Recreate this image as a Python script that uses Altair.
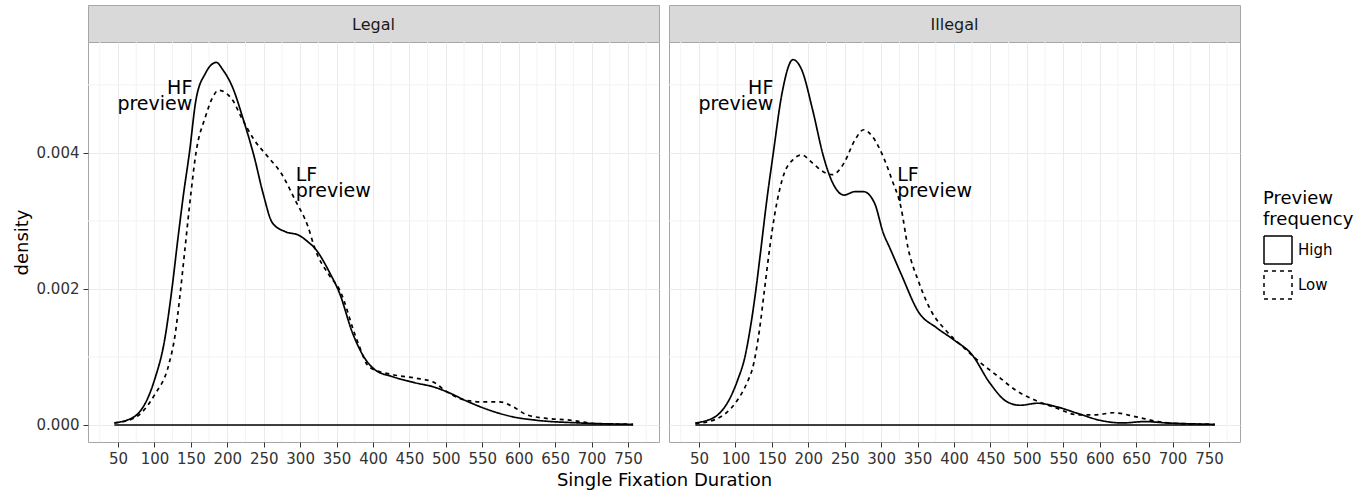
import altair as alt
import pandas as pd

FONT = "DejaVu Sans"

panels = ["Legal", "Illegal"]
freq_levels = ["High", "Low"]

# ---- density curves ----
legal_high_x = [45, 72, 100, 114, 124, 132, 140, 148, 157, 170, 185, 194, 207, 222, 237, 249, 262, 280, 298,
                311, 320, 341, 354, 372, 390, 403, 427, 458, 483, 501, 531, 562, 592, 624, 684, 757]
legal_high_d = [0.00003, 0.00012, 0.00066, 0.00125, 0.0020, 0.00272, 0.0034, 0.0040, 0.00478, 0.00517, 0.00533,
                0.00522, 0.00497, 0.00449, 0.00394, 0.00341, 0.00297, 0.00284, 0.00279, 0.00269, 0.0026,
                0.00223, 0.00194, 0.00135, 0.00096, 0.00081, 0.00071, 0.00062, 0.00056, 0.00049, 0.00034,
                0.00021, 0.00012, 0.00007, 0.00003, 0.00001]

legal_low_x = [45, 72, 100, 120, 128, 135, 142, 150, 157, 170, 180, 188, 207, 219, 237, 256, 274, 293, 311, 320,
               340, 354, 378, 395, 427, 458, 483, 501, 525, 550, 574, 592, 611, 636, 672, 706, 757]
legal_low_d = [0.00003, 0.0001, 0.00044, 0.0009, 0.0013, 0.0019, 0.0026, 0.0034, 0.0040, 0.00453, 0.00482,
               0.00492, 0.00478, 0.00453, 0.00419, 0.00394, 0.0037, 0.00331, 0.00291, 0.0026, 0.0022,
               0.00199, 0.00125, 0.00085, 0.00074, 0.00069, 0.00063, 0.00049, 0.00037, 0.00034, 0.00034,
               0.00027, 0.00015, 0.0001, 0.00007, 0.00002, 0.00001]

illegal_high_x = [45, 72, 103, 113, 120, 127, 134, 143, 152, 164, 179, 191, 206, 221, 233, 249, 264, 276, 291,
                  303, 312, 327, 352, 376, 400, 425, 449, 473, 491, 515, 540, 570, 600, 631, 662, 692, 758]
illegal_high_d = [0.00003, 0.00012, 0.00066, 0.0010, 0.0014, 0.0019, 0.0025, 0.0033, 0.0040, 0.00488, 0.00537,
                  0.00522, 0.00463, 0.00394, 0.00357, 0.00338, 0.00343, 0.00343, 0.00326, 0.00282, 0.0026,
                  0.00223, 0.00165, 0.00143, 0.00125, 0.00103, 0.00062, 0.00034, 0.00029, 0.00032, 0.00027,
                  0.00017, 0.00007, 0.00003, 0.00005, 0.00003, 0.00001]

illegal_low_x = [45, 72, 103, 115, 125, 133, 140, 147, 154, 167, 179, 191, 206, 221, 233, 249, 264, 276, 288, 303,
                 315, 327, 337, 352, 370, 388, 412, 437, 461, 485, 510, 540, 570, 595, 619, 650, 680, 711, 758]
illegal_low_d = [0.00002, 0.00008, 0.00037, 0.0006, 0.0009, 0.0014, 0.0020, 0.0026, 0.0031, 0.0037, 0.0039,
                 0.00397, 0.00385, 0.00372, 0.00368, 0.00385, 0.00419, 0.00434, 0.00424, 0.00394, 0.0036,
                 0.00321, 0.0026, 0.00209, 0.00165, 0.0014, 0.00115, 0.00091, 0.00071, 0.00051, 0.00037,
                 0.00025, 0.00015, 0.00015, 0.00018, 0.00012, 0.00005, 0.00002, 0.00001]

# ---- axes ----
x_ticks = list(range(50, 751, 50))
x_minor = list(range(25, 776, 50))
y_ticks = [0.0, 0.002, 0.004]
y_minor = [0.001, 0.003, 0.005]
X_DOMAIN = [8.8, 792.6]
Y_DOMAIN = [-0.00025, 0.00563]

# ---- annotations ----
ann_panel = ["Legal", "Legal", "Illegal", "Illegal"]
ann_label = ["HF\npreview", "LF\npreview", "HF\npreview", "LF\npreview"]
ann_x = [152, 294, 152, 322]
ann_y = [0.00486, 0.00359, 0.00486, 0.00359]
ann_side = ["right", "left", "right", "left"]

series = {
    ("Legal", "High"): (legal_high_x, legal_high_d),
    ("Legal", "Low"): (legal_low_x, legal_low_d),
    ("Illegal", "High"): (illegal_high_x, illegal_high_d),
    ("Illegal", "Low"): (illegal_low_x, illegal_low_d),
}
rows = []
for (p, f), (xs, ds) in series.items():
    for xv, dv in zip(xs, ds):
        rows.append({"panel": p, "freq": f, "x": xv, "d": dv})
dens = pd.DataFrame(rows)
ann = pd.DataFrame({"panel": ann_panel, "label": ann_label, "x": ann_x, "y": ann_y, "side": ann_side})

W, H, STRIP_H = 571, 400, 37

xscale = alt.Scale(domain=X_DOMAIN, nice=False, zero=False)
yscale = alt.Scale(domain=Y_DOMAIN, nice=False, zero=False)

legend = alt.Legend(
    orient="none", legendX=1175, legendY=185,
    title=["Preview", "frequency"], titleFont=FONT, titleFontSize=18, titleFontWeight="normal",
    titleColor="black", titleLineHeight=21, titlePadding=6,
    labelFont=FONT, labelFontSize=15, labelColor="black", labelOffset=5,
    symbolType="square", symbolSize=784, symbolStrokeWidth=1.5,
    symbolFillColor="white", symbolStrokeColor="black", rowPadding=1,
)


def make_plot(name, first):
    d = dens[dens["panel"] == name]
    a = ann[ann["panel"] == name]
    if first:
        xaxis = alt.Axis(values=x_ticks, grid=True, domain=False, labelFlush=False,
                         title="Single Fixation Duration", titleX=W + 5, titleAlign="center")
        yaxis = alt.Axis(values=y_ticks, format=".3f", grid=True, domain=False, title="density")
    else:
        xaxis = alt.Axis(values=x_ticks, grid=True, domain=False, labelFlush=False, title=None)
        yaxis = alt.Axis(values=y_ticks, grid=True, domain=False, labels=False, ticks=False, title=None)

    minor_x = alt.Chart(pd.DataFrame({"x": x_minor})).mark_rule(color="#F3F3F3", strokeWidth=1).encode(
        x=alt.X("x:Q", scale=xscale, axis=xaxis))
    minor_y = alt.Chart(pd.DataFrame({"y": y_minor})).mark_rule(color="#F3F3F3", strokeWidth=1).encode(
        y=alt.Y("y:Q", scale=yscale, axis=yaxis))
    base_rule = alt.Chart(d).mark_rule(color="black", strokeWidth=1.7).encode(
        x=alt.X("min(x):Q", scale=xscale, axis=xaxis),
        x2=alt.X2("max(x):Q"),
        y=alt.YDatum(0),
    )
    curves = alt.Chart(d).mark_line(
        interpolate="monotone", color="black", strokeWidth=1.7
    ).encode(
        x=alt.X("x:Q", scale=xscale, axis=xaxis),
        y=alt.Y("d:Q", scale=yscale, axis=yaxis),
        strokeDash=alt.StrokeDash("freq:N", scale=alt.Scale(domain=freq_levels, range=[[1, 0], [4, 4]]),
                                  legend=legend),
        order=alt.Order("x:Q"),
    )
    txt_r = alt.Chart(a[a["side"] == "right"]).mark_text(
        align="right", baseline="alphabetic", font=FONT, fontSize=19, lineBreak="\n", lineHeight=16, color="black"
    ).encode(x=alt.X("x:Q", scale=xscale), y=alt.Y("y:Q", scale=yscale), text="label:N")
    txt_l = alt.Chart(a[a["side"] == "left"]).mark_text(
        align="left", baseline="alphabetic", font=FONT, fontSize=19, lineBreak="\n", lineHeight=16, color="black"
    ).encode(x=alt.X("x:Q", scale=xscale), y=alt.Y("y:Q", scale=yscale), text="label:N")

    return alt.layer(minor_x, minor_y, curves, base_rule, txt_r, txt_l).properties(width=W, height=H)


def make_strip(name):
    return alt.Chart(pd.DataFrame({"panel": [name]})).mark_text(
        font=FONT, fontSize=16, color="#1A1A1A", baseline="middle", align="center"
    ).encode(
        text="panel:N", x=alt.value(W / 2), y=alt.value(STRIP_H / 2 + 1)
    ).properties(width=W, height=STRIP_H,
                 view=alt.ViewBackground(fill="#D9D9D9", stroke="#A6A6A6", strokeWidth=1))


chart = alt.concat(
    make_strip("Legal"), make_strip("Illegal"),
    make_plot("Legal", True), make_plot("Illegal", False),
    columns=2, spacing=alt.RowColnumber(row=0, column=10), bounds="flush",
).properties(
    padding={"left": 12, "top": 4, "right": 5, "bottom": 5}, background="white"
).configure_view(
    stroke="#A6A6A6", strokeWidth=1, fill="white"
).configure_axis(
    labelFont=FONT, labelFontSize=15, labelColor="#333333", labelPadding=4,
    tickColor="#333333", tickSize=5, tickWidth=1,
    titleFont=FONT, titleFontSize=18, titleFontWeight="normal", titleColor="black", titlePadding=5,
    gridColor="#EBEBEB", gridWidth=1,
)

chart.save("out.html", embed_options={"renderer": "svg", "actions": False})
